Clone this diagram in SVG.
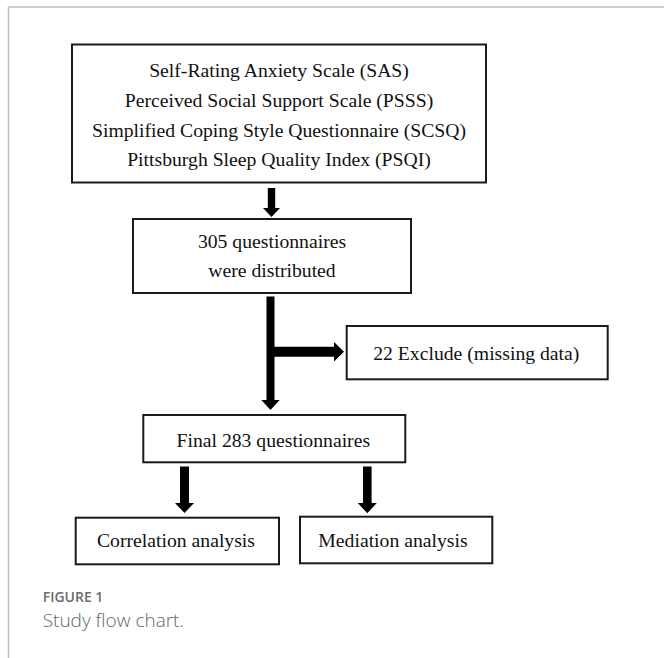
<svg xmlns="http://www.w3.org/2000/svg" width="664" height="658" viewBox="0 0 664 658">
<style>
.box{fill:#fff;stroke:#1a1a1a;stroke-width:2}
.t{font-family:"Liberation Serif","Times New Roman",serif;font-size:19.7px;fill:#111;text-anchor:middle}
.arr{fill:#000;stroke:none}
.frame{stroke:#bdbdbd;stroke-width:1.5;fill:none}
.cap1{font-family:"Open Sans","Noto Sans",sans-serif;font-size:14px;font-weight:600;fill:#6b6b6b}
.cap2{font-family:"Open Sans","Noto Sans",sans-serif;font-size:19px;font-weight:300;fill:#666}
</style>
<rect width="664" height="658" fill="#fff"/>
<path class="frame" d="M8.5 658 V7 H664"/>
<g id="scales">
<rect class="box" x="72" y="44.5" width="414" height="138"/>
<text class="t" x="279" y="77">Self-Rating Anxiety Scale (SAS)</text>
<text class="t" x="279" y="106.5">Perceived Social Support Scale (PSSS)</text>
<text class="t" x="279" y="136.5">Simplified Coping Style Questionnaire (SCSQ)</text>
<text class="t" x="279" y="166">Pittsburgh Sleep Quality Index (PSQI)</text>
</g>
<g id="distributed">
<rect class="box" x="133" y="219" width="278" height="74"/>
<text class="t" x="272" y="248.3">305 questionnaires</text>
<text class="t" x="272" y="277.3">were distributed</text>
</g>
<g id="exclude">
<rect class="box" x="346.7" y="326" width="261" height="53.3"/>
<text class="t" x="476.3" y="360">22 Exclude (missing data)</text>
</g>
<g id="final">
<rect class="box" x="143.3" y="415" width="262" height="47.3"/>
<text class="t" x="273.3" y="446.7">Final 283 questionnaires</text>
</g>
<g id="correlation">
<rect class="box" x="75.7" y="517.7" width="203.3" height="46.6"/>
<text class="t" x="176" y="547">Correlation analysis</text>
</g>
<g id="mediation">
<rect class="box" x="300" y="516.7" width="192.3" height="46.6"/>
<text class="t" x="393" y="547.3">Mediation analysis</text>
</g>
<g id="connectors">
<polygon class="arr" points="267.8,188 275.2,188 275.2,208 280,208 271.5,217 263,208 267.8,208"/>
<polygon class="arr" points="266.5,296.5 274.5,296.5 274.5,346.7 334,346.7 334,342 344,351.7 334,361.4 334,356.7 274.5,356.7 274.5,400 279.7,400 270.5,410 261.3,400 266.5,400"/>
<polygon class="arr" points="180,466.5 189,466.5 189,503 194,503 184.5,513 175,503 180,503"/>
<polygon class="arr" points="363,466.5 371.6,466.5 371.6,503 376.8,503 367.3,513.3 357.8,503 363,503"/>
</g>
<text class="cap1" x="42.7" y="602">FIGURE 1</text>
<text class="cap2" x="42.7" y="627">Study flow chart.</text>
</svg>
